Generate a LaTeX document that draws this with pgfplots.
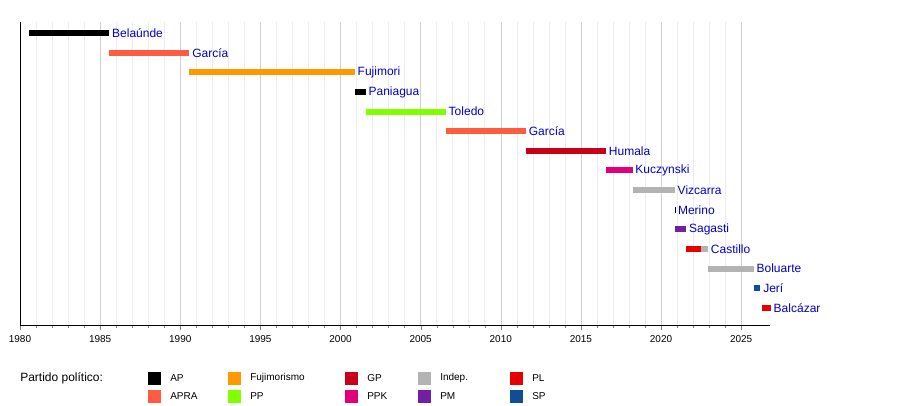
\documentclass[border=0pt]{standalone}
\usepackage{pgfplots}
\pgfplotsset{compat=1.18}
\usepackage{fontspec}
\setmainfont{Liberation Sans}
\definecolor{cAP}{HTML}{000000}
\definecolor{cAPRA}{HTML}{FF5B40}
\definecolor{cFuj}{HTML}{FF9900}
\definecolor{cPP}{HTML}{80FF00}
\definecolor{cGP}{HTML}{C8001A}
\definecolor{cPPK}{HTML}{E0007A}
\definecolor{cInd}{HTML}{B3B3B3}
\definecolor{cPM}{HTML}{7020A0}
\definecolor{cPL}{HTML}{E80000}
\definecolor{cSP}{HTML}{0F4E96}
\definecolor{lab}{RGB}{0,0,200}
\begin{document}
\begin{tikzpicture}
\useasboundingbox (0pt,0pt) rectangle (675pt,303.75pt);
\begin{axis}[at={(15pt,60pt)},anchor=south west,
  scale only axis, width=562.5pt, height=227.25pt,
  xmin=1980, xmax=2026.8, ymin=0.44, ymax=15.87, y dir=reverse,
  axis x line=bottom, axis y line=left, axis line style={-},
  ytick=\empty, xtick={1980,1985,...,2025}, minor x tick num=4,
  x tick label style={/pgf/number format/1000 sep=},
  /pgf/number format/assume math mode=true,
  tick label style={font=\fontsize{7.5}{9}\selectfont},
  xmajorgrids, xminorgrids,
  major grid style={gray!35}, minor grid style={gray!15},
  tick align=outside, major tick length=4pt, minor tick length=2.5pt,
  every axis plot/.style={line width=4.5pt, line cap=butt},
  clip=false,
]
\addplot[cAP] coordinates {(1980.57,1) (1985.57,1)};
\addplot[cAPRA] coordinates {(1985.57,2) (1990.57,2)};
\addplot[cFuj] coordinates {(1990.57,3) (2000.89,3)};
\addplot[cAP] coordinates {(2000.89,4) (2001.57,4)};
\addplot[cPP] coordinates {(2001.57,5) (2006.57,5)};
\addplot[cAPRA] coordinates {(2006.57,6) (2011.57,6)};
\addplot[cGP] coordinates {(2011.57,7) (2016.57,7)};
\addplot[cPPK] coordinates {(2016.57,8) (2018.22,8)};
\addplot[cInd] coordinates {(2018.22,9) (2020.86,9)};
\addplot[cAP] coordinates {(2020.86,10) (2020.88,10)};
\addplot[cPM] coordinates {(2020.88,11) (2021.57,11)};
\addplot[cPL] coordinates {(2021.57,12) (2022.49,12)};
\addplot[cInd] coordinates {(2022.49,12) (2022.93,12)};
\addplot[cInd] coordinates {(2022.93,13) (2025.78,13)};
\addplot[cSP] coordinates {(2025.78,14) (2026.2,14)};
\addplot[cPL] coordinates {(2026.3,15) (2026.85,15)};
\begin{scope}[every node/.style={anchor=west,text=lab,font=\fontsize{9}{11}\selectfont,inner sep=2pt}]
\node at (axis cs:1985.57,1) {Belaúnde};
\node at (axis cs:1990.57,2) {García};
\node at (axis cs:2000.89,3) {Fujimori};
\node at (axis cs:2001.57,4) {Paniagua};
\node at (axis cs:2006.57,5) {Toledo};
\node at (axis cs:2011.57,6) {García};
\node at (axis cs:2016.57,7) {Humala};
\node at (axis cs:2018.22,8) {Kuczynski};
\node at (axis cs:2020.86,9) {Vizcarra};
\node at (axis cs:2020.88,10) {Merino};
\node at (axis cs:2021.57,11) {Sagasti};
\node at (axis cs:2022.93,12) {Castillo};
\node at (axis cs:2025.78,13) {Boluarte};
\node at (axis cs:2026.2,14) {Jerí};
\node at (axis cs:2026.85,15) {Balcázar};
\end{scope}
\end{axis}
\begin{scope}[x=0.75pt,y=0.75pt,every node/.style={anchor=west,font=\fontsize{7.5}{9}\selectfont,inner sep=0pt}]
\node[font=\fontsize{9}{11}\selectfont] at (20,27) {Partido político:};
\foreach \x/\c/\t/\yy in {148/cAP/AP/27,148/cAPRA/APRA/9,228/cFuj/Fujimorismo/27,228/cPP/PP/9,345/cGP/GP/27,345/cPPK/PPK/9,418/cInd/Indep./27,418/cPM/PM/9,510/cPL/PL/27,510/cSP/SP/9}{
  \fill[\c] (\x,\yy-6.5) rectangle ++(13,13);
  \node at (\x+22,\yy) {\t};
}
\end{scope}
\end{tikzpicture}
\end{document}
